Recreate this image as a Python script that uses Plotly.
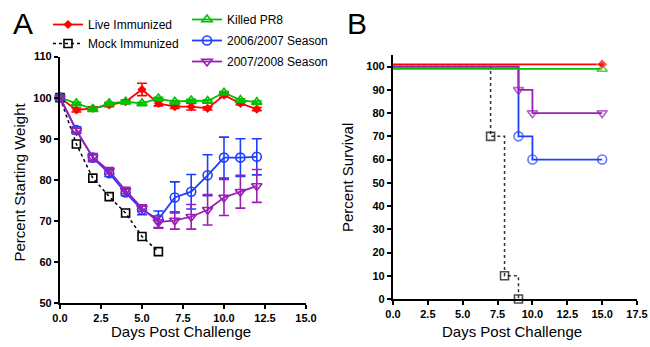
import plotly.graph_objects as go

# ---------------- Panel A: weight data ----------------
days_a = [0, 1, 2, 3, 4, 5, 6, 7, 8, 9, 10, 11, 12]
live_w = [100, 97.0, 97.4, 98.2, 99.0, 102.0, 98.6, 97.8, 97.8, 97.4, 100.6, 98.6, 97.2]
live_err = [0, 0.5, 0.4, 0.4, 0.4, 1.5, 0.6, 0.4, 0.8, 0.4, 0.5, 0.4, 0.4]
killed_w = [100, 98.6, 97.2, 98.6, 99.0, 98.6, 99.8, 99.0, 99.3, 99.2, 101.2, 99.4, 98.9]
killed_err = [0, 0.3, 0.3, 0.3, 0.3, 0.3, 0.3, 0.3, 0.3, 0.3, 0.3, 0.3, 0.3]
mock_days = [0, 1, 2, 3, 4, 5, 6]
mock_w = [100, 88.7, 80.4, 75.9, 71.9, 66.2, 62.5]
s0607_w = [100, 92.1, 85.4, 81.6, 76.9, 72.7, 70.4, 75.7, 77.1, 81.1, 85.4, 85.4, 85.6]
s0607_err = [0, 0.8, 1.0, 0.8, 0.8, 1.2, 2.0, 3.8, 4.2, 5.0, 5.0, 4.6, 4.4]
s0708_w = [100, 92.0, 85.5, 82.2, 77.4, 73.1, 69.7, 70.1, 71.0, 72.7, 75.7, 77.1, 78.5]
s0708_err = [0, 0.6, 0.8, 0.8, 0.8, 0.8, 1.5, 2.1, 3.0, 3.7, 4.4, 4.0, 4.0]

# ---------------- Panel B: survival data ----------------
live_sx = [0, 15]
live_sy = [101, 101]
killed_sx = [0, 15]
killed_sy = [99, 99]
mock_sx = [0, 7, 8, 9]
mock_sy = [100, 70, 10, 0]
s0607_sx = [0, 9, 10, 15]
s0607_sy = [100, 70, 60, 60]
s0708_sx = [0, 9, 10, 15]
s0708_sy = [100, 90, 80, 80]

RED = "#ff0000"
GREEN = "#00c000"
BLUE = "#1f3dff"
PURPLE = "#9a1fb4"
BLACK = "#000000"
FONT = "Liberation Sans, Arial"

fig = go.Figure()

def err(arr, color):
    return dict(type="data", array=arr, visible=True, color=color, thickness=1.6, width=5)

# Panel A traces
fig.add_trace(go.Scatter(x=days_a, y=live_w, error_y=err(live_err, RED), mode="lines+markers",
                         name="Live Immunized", line=dict(color=RED, width=1.8),
                         marker=dict(symbol="diamond", size=7, color=RED),
                         legend="legend", legendgroup="g1", cliponaxis=False, xaxis="x", yaxis="y"))
fig.add_trace(go.Scatter(x=mock_days, y=mock_w, mode="lines+markers",
                         name="Mock Immunized", line=dict(color=BLACK, width=1.5, dash="dot"),
                         marker=dict(symbol="square-open", size=8, color=BLACK, line=dict(width=1.6)),
                         legend="legend", legendgroup="g2", cliponaxis=False, xaxis="x", yaxis="y"))
fig.add_trace(go.Scatter(x=days_a, y=killed_w, error_y=err(killed_err, GREEN), mode="lines+markers",
                         name="Killed PR8", line=dict(color=GREEN, width=1.8),
                         marker=dict(symbol="triangle-up-open", size=9, color=GREEN, line=dict(width=1.6)),
                         legend="legend2", legendgroup="g3", cliponaxis=False, xaxis="x", yaxis="y"))
fig.add_trace(go.Scatter(x=days_a, y=s0607_w, error_y=err(s0607_err, BLUE), mode="lines+markers",
                         name="2006/2007 Season", line=dict(color=BLUE, width=1.8),
                         marker=dict(symbol="circle-open", size=9, color=BLUE, line=dict(width=1.6)),
                         legend="legend2", legendgroup="g4", cliponaxis=False, xaxis="x", yaxis="y"))
fig.add_trace(go.Scatter(x=days_a, y=s0708_w, error_y=err(s0708_err, PURPLE), mode="lines+markers",
                         name="2007/2008 Season", line=dict(color=PURPLE, width=1.8),
                         marker=dict(symbol="triangle-down-open", size=9, color=PURPLE, line=dict(width=1.6)),
                         legend="legend2", legendgroup="g5", cliponaxis=False, xaxis="x", yaxis="y"))

# Panel B traces
def msizes(n, s):
    return [0] + [s] * (n - 1)

fig.add_trace(go.Scatter(x=mock_sx, y=mock_sy, mode="lines+markers", line_shape="hv",
                         line=dict(color="#333333", width=1.5, dash="dot"),
                         marker=dict(symbol="square-open", size=msizes(len(mock_sx), 8), color=BLACK, line=dict(width=1.6)),
                         showlegend=False, cliponaxis=False, xaxis="x2", yaxis="y2"))
fig.add_trace(go.Scatter(x=s0607_sx, y=s0607_sy, mode="lines+markers", line_shape="hv",
                         line=dict(color=BLUE, width=1.8),
                         marker=dict(symbol="circle-open", size=msizes(len(s0607_sx), 9), color=BLUE, line=dict(width=1.6)),
                         showlegend=False, cliponaxis=False, xaxis="x2", yaxis="y2"))
fig.add_trace(go.Scatter(x=s0708_sx, y=s0708_sy, mode="lines+markers", line_shape="hv",
                         line=dict(color=PURPLE, width=1.8),
                         marker=dict(symbol="triangle-down-open", size=msizes(len(s0708_sx), 9), color=PURPLE, line=dict(width=1.6)),
                         showlegend=False, cliponaxis=False, xaxis="x2", yaxis="y2"))
fig.add_trace(go.Scatter(x=killed_sx, y=killed_sy, mode="lines+markers", line_shape="hv",
                         line=dict(color=GREEN, width=1.8),
                         marker=dict(symbol="triangle-up-open", size=msizes(len(killed_sx), 9), color=GREEN, line=dict(width=1.6)),
                         showlegend=False, cliponaxis=False, xaxis="x2", yaxis="y2"))
fig.add_trace(go.Scatter(x=live_sx, y=live_sy, mode="lines+markers", line_shape="hv",
                         line=dict(color=RED, width=1.8),
                         marker=dict(symbol="diamond", size=msizes(len(live_sx), 8), color=RED),
                         showlegend=False, cliponaxis=False, xaxis="x2", yaxis="y2"))

W, H = 650, 347
tickfont = dict(family=FONT, size=11, color="black", weight=700)
axis_common = dict(showgrid=False, zeroline=False, showline=True, linecolor="black", linewidth=2.2,
                   ticks="outside", ticklen=4, tickwidth=2, tickcolor="black", tickfont=tickfont)

def ann(text, x, y, size, angle=0):
    return dict(text=text, x=x / W, y=1 - y / H, xref="paper", yref="paper", showarrow=False,
                xanchor="center", yanchor="middle", textangle=angle,
                font=dict(size=size, family=FONT, color="black"))

fig.update_layout(
    width=W, height=H,
    margin=dict(l=0, r=0, t=0, b=0, autoexpand=False),
    paper_bgcolor="white", plot_bgcolor="white",
    font=dict(family=FONT, color="black"),
    xaxis=dict(domain=[60 / W, 306 / W], range=[0, 15], tickvals=[0, 2.5, 5, 7.5, 10, 12.5, 15],
               tickformat=".1f", anchor="y", **axis_common),
    yaxis=dict(domain=[1 - 303 / H, 1 - 56.6 / H], range=[50, 110], tickvals=[50, 60, 70, 80, 90, 100, 110],
               anchor="x", **axis_common),
    xaxis2=dict(domain=[393 / W, 637 / W], range=[0, 17.5], tickvals=[0, 2.5, 5, 7.5, 10, 12.5, 15, 17.5],
                tickformat=".1f", anchor="y2", **axis_common),
    yaxis2=dict(domain=[1 - 299 / H, 1 - 55 / H], range=[0, 105], tickvals=list(range(0, 101, 10)),
                anchor="x2", **axis_common),
    legend=dict(x=48 / W, y=1 - 10 / H, xanchor="left", yanchor="top", bgcolor="rgba(0,0,0,0)",
                font=dict(family=FONT, size=12, color="black"),
                itemwidth=30, tracegroupgap=0),
    legend2=dict(x=187 / W, y=1 - 5 / H, xanchor="left", yanchor="top", bgcolor="rgba(0,0,0,0)",
                 font=dict(family=FONT, size=12, color="black"),
                 itemwidth=30, tracegroupgap=2),
    annotations=[
        ann("A", 22.5, 24, 30),
        ann("B", 357, 24, 30),
        ann("Percent Starting Weight", 18.5, 182, 15, -90),
        ann("Days Post Challenge", 181, 331, 15),
        ann("Percent Survival", 347, 178, 15, -90),
        ann("Days Post Challenge", 512, 331, 15),
    ],
)

fig.write_html("out.html", config={"displayModeBar": False},
               post_script="document.body.style.margin='0';")
